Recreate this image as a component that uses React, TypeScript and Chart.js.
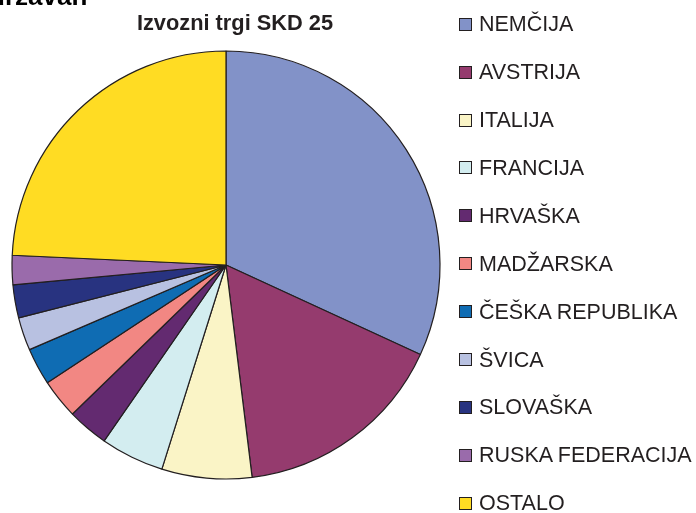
import React, { useEffect, useRef } from "react";
import { Chart, registerables } from "chart.js";

Chart.register(...registerables);

const categories = [
  "NEMČIJA",
  "AVSTRIJA",
  "ITALIJA",
  "FRANCIJA",
  "HRVAŠKA",
  "MADŽARSKA",
  "ČEŠKA REPUBLIKA",
  "ŠVICA",
  "SLOVAŠKA",
  "RUSKA FEDERACIJA",
  "OSTALO",
];

const shares = [31.9, 16.2, 6.8, 4.8, 3.1, 3.0, 2.8, 2.5, 2.5, 2.2, 24.3];

const sliceColors = [
  "#8292C8",
  "#953B6E",
  "#FAF4C6",
  "#D3EDF0",
  "#632A70",
  "#F28783",
  "#0F6CB3",
  "#B8C1E1",
  "#283380",
  "#9A6BAB",
  "#FFDC23",
];

const chartTitle = "Izvozni trgi SKD 25";
const cutTitle = "državah";

const FONT = '"Liberation Sans", Arial, Helvetica, sans-serif';
const INK = "#231F20";

export default function App() {
  const canvasRef = useRef<HTMLCanvasElement | null>(null);

  useEffect(() => {
    const canvas = canvasRef.current;
    if (!canvas) return;
    const chart = new Chart(canvas, {
      type: "pie",
      data: {
        labels: categories,
        datasets: [
          {
            data: shares,
            backgroundColor: sliceColors,
            borderColor: INK,
            borderWidth: 1.2,
            hoverOffset: 0,
          },
        ],
      },
      options: {
        responsive: false,
        animation: false,
        devicePixelRatio: 1,
        layout: {
          padding: { left: 11.4, right: 255.4, top: 50.4, bottom: 33.4 },
        },
        plugins: {
          legend: { display: false },
          title: { display: false },
          tooltip: { enabled: false },
        },
      },
    });
    return () => chart.destroy();
  }, []);

  return (
    <div
      style={{
        position: "fixed",
        left: 0,
        top: 0,
        width: 696,
        height: 513,
        overflow: "hidden",
        background: "#ffffff",
        fontFamily: FONT,
        color: INK,
      }}
    >
      <canvas
        ref={canvasRef}
        width={696}
        height={513}
        style={{ position: "absolute", left: 0, top: 0, width: 696, height: 513 }}
      />
      <div
        style={{
          position: "absolute",
          left: -11,
          top: -19.5,
          fontSize: 26,
          lineHeight: "30px",
          fontWeight: "bold",
          whiteSpace: "nowrap",
          color: "#000",
        }}
      >
        {cutTitle}
      </div>
      <div
        style={{
          position: "absolute",
          left: 0,
          width: 470,
          top: 10.2,
          textAlign: "center",
          fontSize: 21.8,
          lineHeight: "26px",
          fontWeight: "bold",
          whiteSpace: "nowrap",
        }}
      >
        {chartTitle}
      </div>
      {categories.map((name, i) => (
        <div
          key={name}
          style={{
            position: "absolute",
            left: 459,
            top: 24.7 + i * 47.9 - 12.5,
            height: 24,
            display: "flex",
            alignItems: "center",
            whiteSpace: "nowrap",
          }}
        >
          <span
            style={{
              display: "inline-block",
              width: 13,
              height: 13,
              boxSizing: "border-box",
              border: `1px solid ${INK}`,
              background: sliceColors[i],
              marginRight: 7,
            }}
          />
          <span style={{ fontSize: 21.5, lineHeight: "24px" }}>{name}</span>
        </div>
      ))}
    </div>
  );
}
